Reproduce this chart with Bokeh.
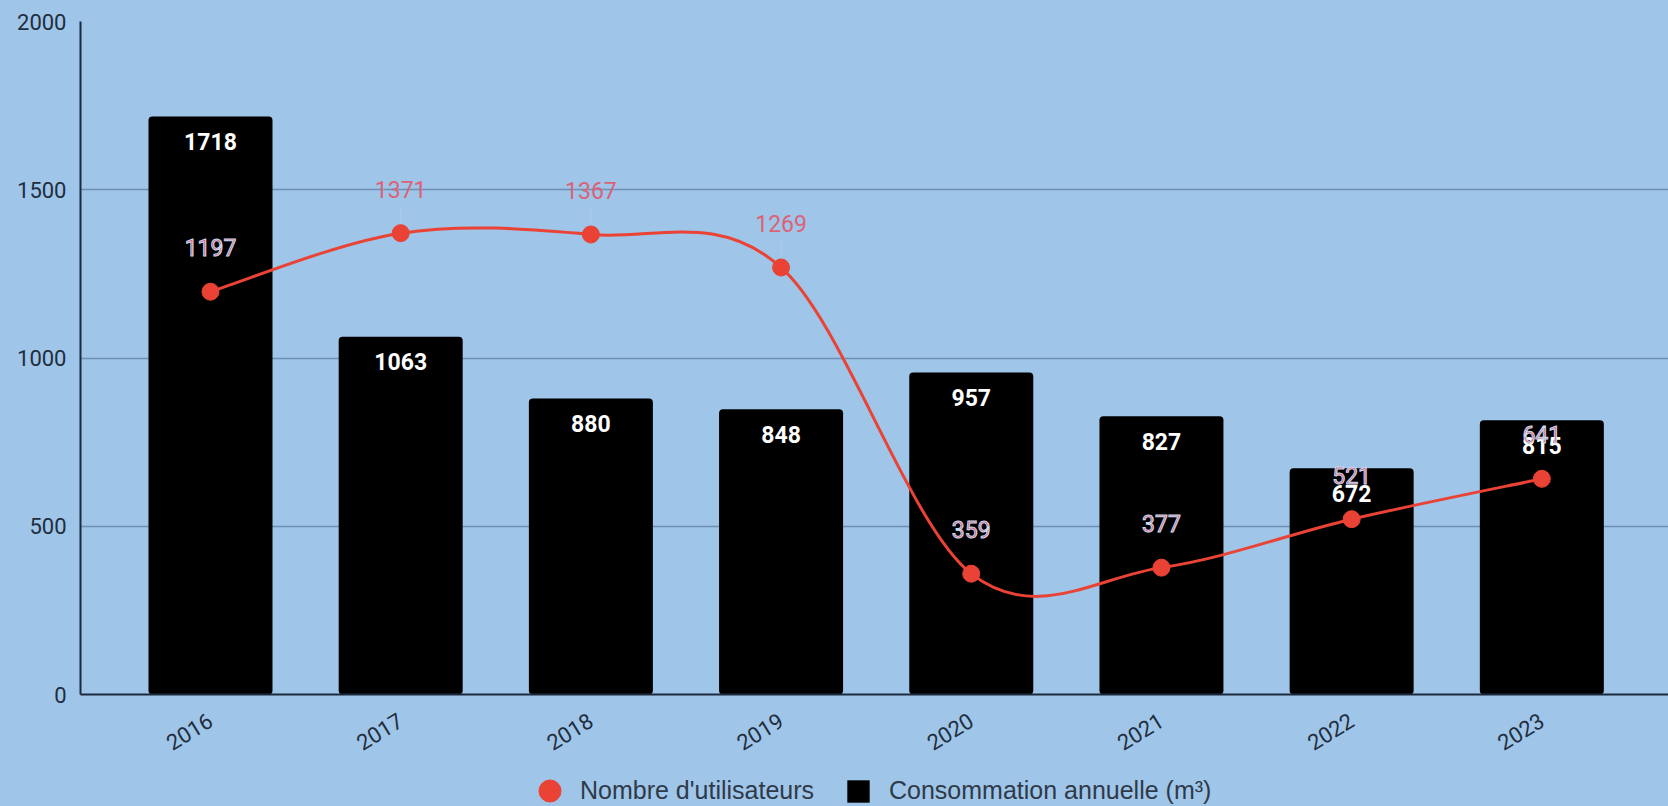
from bokeh.plotting import figure
from bokeh.layouts import column
from bokeh.models import (Range1d, FixedTicker, Legend, LegendItem,
                          ColumnDataSource, GlobalInlineStyleSheet)
from bokeh.core.properties import value
from bokeh.embed import file_html
from bokeh.resources import INLINE

# ---------------- data ----------------
years = ["2016", "2017", "2018", "2019", "2020", "2021", "2022", "2023"]
consommation = [1718, 1063, 880, 848, 957, 827, 672, 815]
utilisateurs = [1197, 1371, 1367, 1269, 359, 377, 521, 641]
y_ticks = [0, 500, 1000, 1500, 2000]

# ---------------- style ----------------
BG = "#9fc5e8"
RED = "#ea4335"
LABEL_RED = "#dc6277"
AXIS = "#1c2b3c"
TICK_TXT = "#1f2e3e"
GRID = "#6d8fb3"
LEGEND_TXT = "#2f3a48"

xs = list(range(len(years)))

src = ColumnDataSource(dict(
    x=xs, cons=consommation, users=utilisateurs,
    cons_lbl=[str(v) for v in consommation],
))

# user labels split: drawn over a bar (with halo) or over the background
inside = [u + 130 < c for u, c in zip(utilisateurs, consommation)]
src_in = ColumnDataSource(dict(
    x=[x for x, k in zip(xs, inside) if k],
    y=[u for u, k in zip(utilisateurs, inside) if k],
    t=[str(u) for u, k in zip(utilisateurs, inside) if k]))
src_out = ColumnDataSource(dict(
    x=[x for x, k in zip(xs, inside) if not k],
    y=[u for u, k in zip(utilisateurs, inside) if not k],
    t=[str(u) for u, k in zip(utilisateurs, inside) if not k],
    l0=[u + 30 for u, k in zip(utilisateurs, inside) if not k],
    l1=[u + 80 for u, k in zip(utilisateurs, inside) if not k]))

p = figure(width=1668, height=770, output_backend="svg", toolbar_location=None,
           x_range=Range1d(-0.6835, 7.666), y_range=Range1d(0, 2000),
           min_border_left=80, min_border_right=0, min_border_top=21,
           min_border_bottom=76)
p.background_fill_color = BG
p.border_fill_color = BG
p.outline_line_color = None

# bars
bars = p.vbar(x="x", top="cons", bottom=0, width=0.652, source=src,
              fill_color="black", line_color=None, border_radius=4)

# smooth line (Catmull-Rom rendered as cubic bezier segments)
n = len(xs)
bx0, by0, bx1, by1, cx0, cy0, cx1, cy1 = [], [], [], [], [], [], [], []
for i in range(n - 1):
    xp, yp = (xs[i - 1], utilisateurs[i - 1]) if i > 0 else (xs[i], utilisateurs[i])
    xn, yn = (xs[i + 2], utilisateurs[i + 2]) if i + 2 < n else (xs[i + 1], utilisateurs[i + 1])
    bx0.append(xs[i]); by0.append(utilisateurs[i])
    bx1.append(xs[i + 1]); by1.append(utilisateurs[i + 1])
    cx0.append(xs[i] + (xs[i + 1] - xp) / 6.0)
    cy0.append(utilisateurs[i] + (utilisateurs[i + 1] - yp) / 6.0)
    cx1.append(xs[i + 1] - (xn - xs[i]) / 6.0)
    cy1.append(utilisateurs[i + 1] - (yn - utilisateurs[i]) / 6.0)
p.bezier(x0=bx0, y0=by0, x1=bx1, y1=by1, cx0=cx0, cy0=cy0, cx1=cx1, cy1=cy1,
         line_color=RED, line_width=3)

# leader lines for labels above the background
p.segment(x0="x", y0="l0", x1="x", y1="l1", source=src_out,
          line_color="#c3d6ea", line_width=1, line_alpha=0.45)

pts = p.scatter(x="x", y="users", source=src, size=17, fill_color=RED,
                line_color=RED)

# labels
p.text(x="x", y="cons", text="cons_lbl", source=src, y_offset=25,
       text_color="white", text_font=value("Roboto"), text_font_style="bold",
       text_font_size="23px", text_align="center", text_baseline="middle")
p.text(x="x", y="y", text="t", source=src_in, y_offset=-44,
       text_color="#e25a78", text_font=value("Roboto"), text_font_size="23px",
       text_align="center", text_baseline="middle", text_outline_color="#c6dbef")
p.text(x="x", y="y", text="t", source=src_out, y_offset=-44,
       text_color=LABEL_RED, text_font=value("Roboto"), text_font_size="23px",
       text_align="center", text_baseline="middle")

# axes / grid
p.xgrid.visible = False
p.ygrid.ticker = FixedTicker(ticks=y_ticks)
p.ygrid.grid_line_color = GRID
p.ygrid.grid_line_width = 1.5

p.yaxis.ticker = FixedTicker(ticks=y_ticks)
p.xaxis.ticker = FixedTicker(ticks=xs)
p.xaxis.major_label_overrides = {i: y for i, y in zip(xs, years)}
p.xaxis.major_label_orientation = 0.55
for ax in (p.xaxis, p.yaxis):
    ax.axis_line_color = AXIS
    ax.axis_line_width = 2
    ax.major_tick_line_color = None
    ax.minor_tick_line_color = None
    ax.major_tick_out = 0
    ax.major_tick_in = 0
    ax.major_label_text_font = "Roboto"
    ax.major_label_text_font_size = "22px"
    ax.major_label_text_color = TICK_TXT
p.yaxis.major_label_standoff = 14
p.xaxis.major_label_standoff = 24

# ---------------- legend strip ----------------
leg = figure(width=1668, height=36, output_backend="svg", toolbar_location=None,
             x_range=Range1d(-10, -9), y_range=Range1d(-10, -9),
             x_axis_location=None, y_axis_location=None, min_border=0)
leg.background_fill_color = BG
leg.border_fill_color = BG
leg.outline_line_color = None
leg.grid.visible = False
# legend-only renderers (hidden; they only give the legend its swatches)
leg_pts = leg.scatter(x=xs, y=utilisateurs, fill_color=RED, line_color=RED,
                      visible=False)
leg_bar = leg.vbar(x=xs, top=consommation, width=0.652, fill_color="black",
                   line_color=None, visible=False)


def make_legend(item, glyph, standoff, loc):
    lg = Legend(items=[item], orientation="horizontal", location=loc)
    lg.label_text_font = "Liberation Sans"
    lg.label_text_font_size = "25px"
    lg.label_text_color = LEGEND_TXT
    lg.glyph_width = glyph
    lg.glyph_height = glyph
    lg.label_standoff = standoff
    lg.label_height = glyph
    lg.padding = 0
    lg.margin = 0
    lg.border_line_alpha = 0
    lg.background_fill_alpha = 0
    lg.click_policy = "none"
    return lg


leg.add_layout(make_legend(LegendItem(label="Nombre d'utilisateurs", renderers=[leg_pts]),
                           55, 3, (442, -12)), "center")
leg.add_layout(make_legend(LegendItem(label="Consommation annuelle (m³)", renderers=[leg_bar]),
                           28, 17, (764, 1)), "center")

page = column(p, leg, spacing=0)
page.stylesheets = [GlobalInlineStyleSheet(css="body{background:%s;}" % BG)]

open("out.html", "w").write(file_html(page, INLINE))
